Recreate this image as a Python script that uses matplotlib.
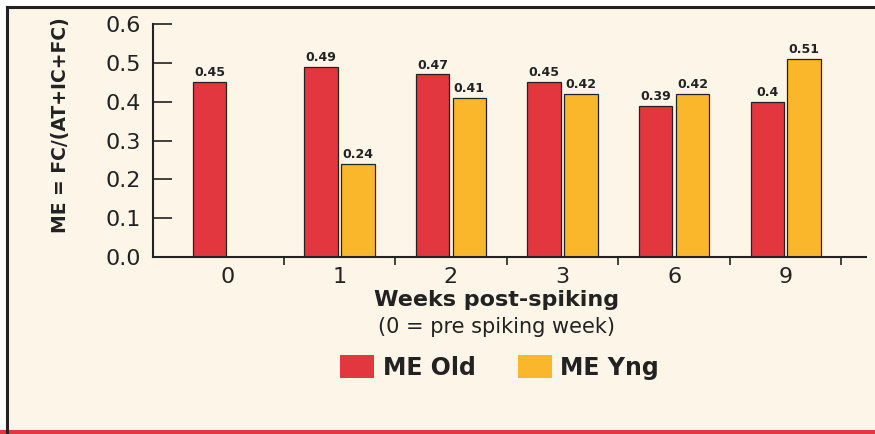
import numpy as np
import matplotlib
matplotlib.use("Agg")
import matplotlib.pyplot as plt
from matplotlib.patches import Patch, Rectangle
from matplotlib.lines import Line2D

# data
weeks = ["0", "1", "2", "3", "6", "9"]
me_old = [0.45, 0.49, 0.47, 0.45, 0.39, 0.40]
me_yng = [None, 0.24, 0.41, 0.42, 0.42, 0.51]

red = "#E2373F"
yellow = "#FBB72B"
cream = "#FDF5E7"

plt.rcParams["font.family"] = ["DejaVu Sans"]

fig = plt.figure(figsize=(8.75, 4.34), dpi=100, facecolor="white")

# panel background + frame lines
fig.add_artist(Rectangle((0.008, 0.0), 0.992, 0.982, transform=fig.transFigure,
                         facecolor=cream, edgecolor="none", zorder=-10))
fig.add_artist(Line2D([0.008, 1.0], [0.983, 0.983], transform=fig.transFigure,
                      color="#222222", lw=2.2))
fig.add_artist(Line2D([0.008, 0.008], [0.0, 0.983], transform=fig.transFigure,
                      color="#222222", lw=2.2))
fig.add_artist(Rectangle((0.0, 0.0), 1.0, 0.009, transform=fig.transFigure,
                         facecolor=red, edgecolor="none"))

ax = fig.add_axes([0.1749, 0.4078, 0.8148, 0.5369])
ax.set_facecolor("none")

x = np.arange(len(weeks))
w = 0.30
off = 0.165

old_bars = ax.bar(x - off, me_old, w, color=red, edgecolor="#222222", linewidth=0.9)
yi = [i for i, v in enumerate(me_yng) if v is not None]
yv = [me_yng[i] for i in yi]
yng_bars = ax.bar(x[yi] + off, yv, w, color=yellow, edgecolor="#222222", linewidth=0.9)

ax.bar_label(old_bars, labels=[f"{v:g}" for v in me_old], padding=2,
             fontsize=9, fontweight="bold", color="#222222")
ax.bar_label(yng_bars, labels=[f"{v:g}" for v in yv], padding=2,
             fontsize=9, fontweight="bold", color="#222222")

ax.set_xlim(-0.67, 5.72)
ax.set_ylim(0, 0.6)

for s in ["top", "right"]:
    ax.spines[s].set_visible(False)
for s in ["left", "bottom"]:
    ax.spines[s].set_linewidth(1.5)
    ax.spines[s].set_color("#222222")

ax.set_yticks(np.arange(0, 0.61, 0.1))
ax.set_yticklabels([f"{v:.1f}" for v in np.arange(0, 0.61, 0.1)])
ax.tick_params(axis="y", direction="in", length=14, width=1.2, pad=9,
               labelsize=16, colors="#222222")

ax.set_xticks(x)
ax.set_xticklabels(weeks)
ax.set_xticks(np.arange(0.5, 5.6, 1.0), minor=True)
ax.tick_params(axis="x", which="major", length=0, pad=7, labelsize=16,
               colors="#222222")
ax.tick_params(axis="x", which="minor", direction="out", length=6, width=1.2,
               color="#222222")

ax.set_ylabel("ME = FC/(AT+IC+FC)", fontsize=13.5, fontweight="bold",
              color="#222222")
ax.yaxis.set_label_coords(-0.117, 0.567)

fig.text(0.568, 0.308, "Weeks post-spiking", ha="center", va="center",
         fontsize=16, fontweight="bold", color="#222222")
fig.text(0.568, 0.246, "(0 = pre spiking week)", ha="center", va="center",
         fontsize=15, color="#222222")

handles = [Patch(facecolor=red, edgecolor="none", label="ME Old"),
           Patch(facecolor=yellow, edgecolor="none", label="ME Yng")]
leg = fig.legend(handles=handles, loc="center", bbox_to_anchor=(0.571, 0.153),
                 ncol=2, frameon=False, handlelength=1.45, handleheight=1.1,
                 handletextpad=0.35, columnspacing=1.8,
                 prop={"size": 17, "weight": "bold"})
for t in leg.get_texts():
    t.set_color("#222222")

fig.savefig("out.png", dpi=100, facecolor=fig.get_facecolor())
